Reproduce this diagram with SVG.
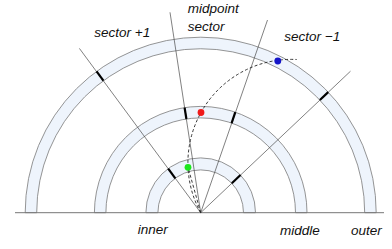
<svg xmlns="http://www.w3.org/2000/svg" width="392" height="249" viewBox="0 0 392 249">
<style>
.band{fill:#eef4fc;stroke:#7a7a7a;stroke-width:0.8}
.ray{stroke:#4a4a4a;stroke-width:0.7;fill:none}
.tick{stroke:#000;stroke-width:2.2;fill:none}
.track{stroke:#222;stroke-width:0.9;fill:none;stroke-dasharray:3 2.2}
.lbl{font-family:"Liberation Sans",Arial,sans-serif;font-style:italic;font-size:13.5px;fill:#111}
</style>
<rect width="392" height="249" fill="#fff"/>
<g id="outer-ring">
<path class="band" d="M376.2 212.7 A175.5 175.5 0 0 0 25.2 212.7 L36.7 212.7 A164 164 0 0 1 364.7 212.7 Z"/>
</g>
<g id="middle-ring">
<path class="band" d="M307 212.7 A106.3 106.3 0 0 0 94.4 212.7 L105.9 212.7 A94.8 94.8 0 0 1 295.5 212.7 Z"/>
</g>
<g id="inner-ring">
<path class="band" d="M255.5 212.7 A54.8 54.8 0 0 0 145.9 212.7 L157.9 212.7 A42.8 42.8 0 0 1 243.5 212.7 Z"/>
</g>
<line x1="15" y1="212.7" x2="384" y2="212.7" stroke="#777" stroke-width="1"/>
<g id="connectors">
<line class="ray" x1="200.7" y1="212.7" x2="79.4" y2="48.4"/>
<line class="ray" x1="200.7" y1="212.7" x2="170" y2="12.3"/>
<line class="ray" x1="200.7" y1="212.7" x2="267.5" y2="20"/>
<line class="ray" x1="200.7" y1="212.7" x2="350.5" y2="71.2"/>
<line class="tick" x1="103.4" y1="80.7" x2="96.6" y2="71.4"/>
<line class="tick" x1="175.3" y1="178.3" x2="168.2" y2="168.6"/>
<line class="tick" x1="186.4" y1="119" x2="184.6" y2="107.6"/>
<line class="tick" x1="231.6" y1="123.1" x2="235.3" y2="112.2"/>
<line class="tick" x1="319.9" y1="100" x2="328.2" y2="92.1"/>
<line class="tick" x1="231.8" y1="183.3" x2="240.5" y2="175"/>
<path class="track" d="M200.7 212.7 A103.5 103.5 0 0 1 296.7 59.5"/>
<path class="track" d="M200.7 212.7 L188 167.3"/>
</g>
<g id="hits">
<circle id="hit-inner" cx="188" cy="167.3" r="3.4" fill="#1ee61e"/>
<circle id="hit-middle" cx="201" cy="112.5" r="3.4" fill="#f01a1a"/>
<circle id="hit-outer" cx="277.8" cy="61" r="3.4" fill="#1414c8"/>
</g>
<g id="labels">
<text class="lbl" x="94.3" y="37">sector +1</text>
<text class="lbl" x="187.7" y="13">midpoint</text>
<text class="lbl" x="187.7" y="31">sector</text>
<text class="lbl" x="284.3" y="40.5">sector −1</text>
<text class="lbl" x="137.7" y="234">inner</text>
<text class="lbl" x="280" y="235">middle</text>
<text class="lbl" x="351" y="235">outer</text>
</g>
</svg>
